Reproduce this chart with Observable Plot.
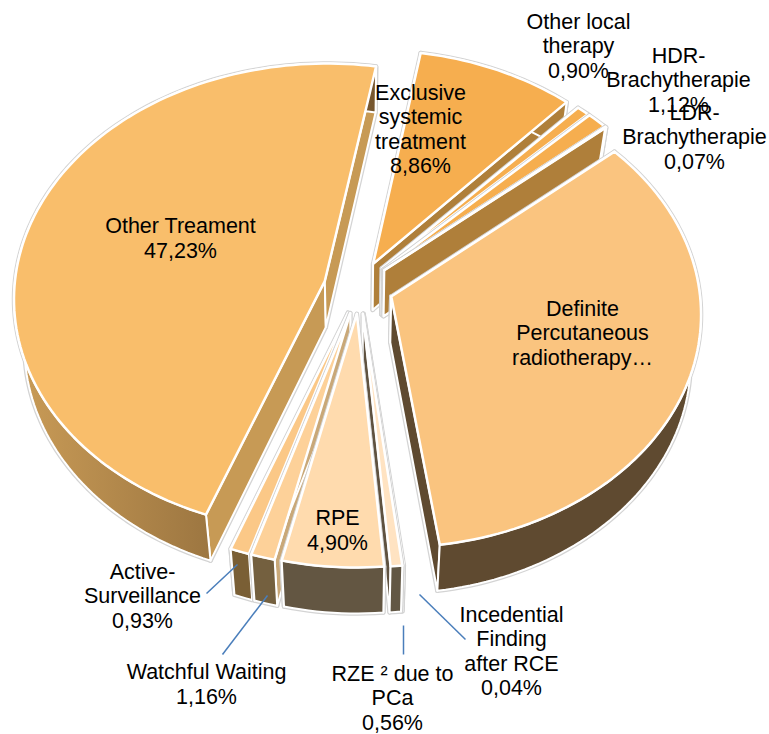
<!DOCTYPE html>
<html><head><meta charset="utf-8">
<script src="https://cdn.jsdelivr.net/npm/d3@7"></script>
<script src="https://cdn.jsdelivr.net/npm/@observablehq/plot@0.6"></script>
<style>html,body{margin:0;padding:0;background:#fff}svg{display:block}</style>
</head><body><div id="chart"></div>
<script>
// Data, clockwise from the first slice
const names = ["Definite Percutaneous radiotherapy","Incedential Finding after RCE","RZE 2 due to PCa","RPE","Watchful Waiting","Active-Surveillance","Other Treament","Exclusive systemic treatment","Other local therapy","HDR-Brachytherapie","LDR-Brachytherapie"];
const values = [34.23,0.04,0.56,4.90,1.16,0.93,47.23,8.86,0.90,1.12,0.07];
// Styles by slice
const topColors  = ["#FAC47F","#FFE3C2","#FFE3C2","#FFDBAE","#FDD199","#FBC887","#F9BE6B","#F6AE4F","#F6AE4F","#F6AE4F","#F6AE4F"];
const outerColors= ["#5F4A30","#665A48","#625744","#635642","#74603F","#7A5F35","url(#otherWall)","#AF7F3A","#AF7F3A","#AF7F3A","#AF7F3A"];
const sideColors = ["#5F4A30","#5F5240","#5F5240","#C9A878","#C9A878","#C9A878","#C79A55","#AF7F3A","#AF7F3A","#AF7F3A","#AF7F3A"];
const radiusScale= [1,1,1,1,1,1,1.008,1,1,1,1];
const startTrim  = [0,0,0,0,0,0,0,0,0.7,0,0];
const endTrim    = [1.1,0,0,0,0,0,0,0,0,0,0];
const drawOrder = [7,8,9,10,6,0,5,4,1,2,3];
// Labels
const labelTexts = ["Other Treament\n47,23%","Exclusive\nsystemic\ntreatment\n8,86%","Other local\ntherapy\n0,90%","HDR-\nBrachytherapie\n1,12%","LDR-\nBrachytherapie\n0,07%","Definite\nPercutaneous\nradiotherapy…","RPE\n4,90%","Active-\nSurveillance\n0,93%","Watchful Waiting\n1,16%","RZE ² due to\nPCa\n0,56%","Incedential\nFinding\nafter RCE\n0,04%"];
const labelX = [180,420,578,678,694,582,337,142,206,392,511];
const labelY = [237,128,45,79,136,332,529,595,683,697,650];
const leaderX1 = [206,222,403,465], leaderY1 = [593,654,654,639];
const leaderX2 = [237,267,403,419], leaderY2 = [564,595,625,594];

// Projection of the tilted, exploded pie
const cx=358, cy=287, ra=308, rb=232, persp=0.07, explode=0.113, depth=46, bottomScale=0.97, startDeg=48.5;
const warp = d3.scaleLinear([0,48,172,199,360],[0.6,1,1.4,1.5,0.6]);
const rad = Math.PI/180;
const project = (u,v,low) => {
  const s = 1/(1+persp*v);
  let x = cx+ra*u*s, y = cy-rb*v*s;
  if (low) { x = cx+(x-cx)*bottomScale; y += depth; }
  return {x,y};
};
const total = d3.sum(values);
let acc = startDeg;
const slices = values.map((v,i)=>{
  const a0 = acc, a1 = acc+v/total*360; acc = a1;
  const mid=(a0+a1)/2*rad;
  return {i,a0:a0+startTrim[i],a1:a1-endTrim[i],r:radiusScale[i],ox:explode*Math.sin(mid),oy:explode*Math.cos(mid)};
});
const pt=(s,deg,r,low)=>{const d=(deg+warp(((deg%360)+360)%360))*rad;return project(s.ox+r*s.r*Math.sin(d),s.oy+r*s.r*Math.cos(d),low)};
const arcDegs=(a0,a1)=>{const n=Math.max(2,Math.ceil((a1-a0)/1.5));return d3.range(n+1).map(k=>a0+(a1-a0)*k/n)};
const close=p=>[...p,p[0]];
const topShape=s=>close([pt(s,s.a0,0,false),...arcDegs(s.a0,s.a1).map(d=>pt(s,d,1,false))]);
const sideShape=(s,deg)=>close([pt(s,deg,0,false),pt(s,deg,1,false),pt(s,deg,1,true),pt(s,deg,0,true)]);
const outerShape=s=>{
  const ds=arcDegs(s.a0,s.a1);
  return close([...ds.map(d=>pt(s,d,1,false)),...ds.slice().reverse().map(d=>pt(s,d,1,true))]);
};
const xy={x:"x",y:"y"};
const marks=[
  ()=>{ const ns="http://www.w3.org/2000/svg";
    const defs=document.createElementNS(ns,"defs");
    defs.innerHTML='<linearGradient id="otherWall" x1="0" x2="1" y1="0" y2="0"><stop offset="0" stop-color="#CA9C57"/><stop offset="1" stop-color="#76562E"/></linearGradient>';
    return defs; }
];
for (const i of drawOrder){
  const s=slices[i];
  const walls=[[sideShape(s,s.a0),sideColors[i]],[sideShape(s,s.a1),sideColors[i]],[outerShape(s),outerColors[i]]];
  for(const [p] of walls) marks.push(Plot.line(p,{...xy,stroke:"#d4d4d4",strokeWidth:4.5,fill:"#d4d4d4"}));
  for(const [p,c] of walls) marks.push(Plot.line(p,{...xy,fill:c,stroke:"#fff",strokeWidth:2}));
  marks.push(Plot.line(topShape(s),{...xy,fill:topColors[i],stroke:"#fff",strokeWidth:2.5}));
}
marks.push(Plot.link(leaderX1,{x1:(d,i)=>leaderX1[i],y1:(d,i)=>leaderY1[i],x2:(d,i)=>leaderX2[i],y2:(d,i)=>leaderY2[i],stroke:"#4A7EBB",strokeWidth:1.5}));
marks.push(Plot.text(labelTexts,{x:(d,i)=>labelX[i],y:(d,i)=>labelY[i],text:d=>d,fill:"#000",fontSize:21.5,lineHeight:1.14,textAnchor:"middle",lineAnchor:"middle",stroke:null}));
const chart=Plot.plot({width:769,height:734,margin:0,
  x:{domain:[0,769],range:[0,769],axis:null},
  y:{domain:[0,734],range:[0,734],axis:null},
  style:{background:"#fff",fontFamily:"'Liberation Sans',Arial,sans-serif"},
  marks});
document.getElementById("chart").append(chart);
</script></body></html>
